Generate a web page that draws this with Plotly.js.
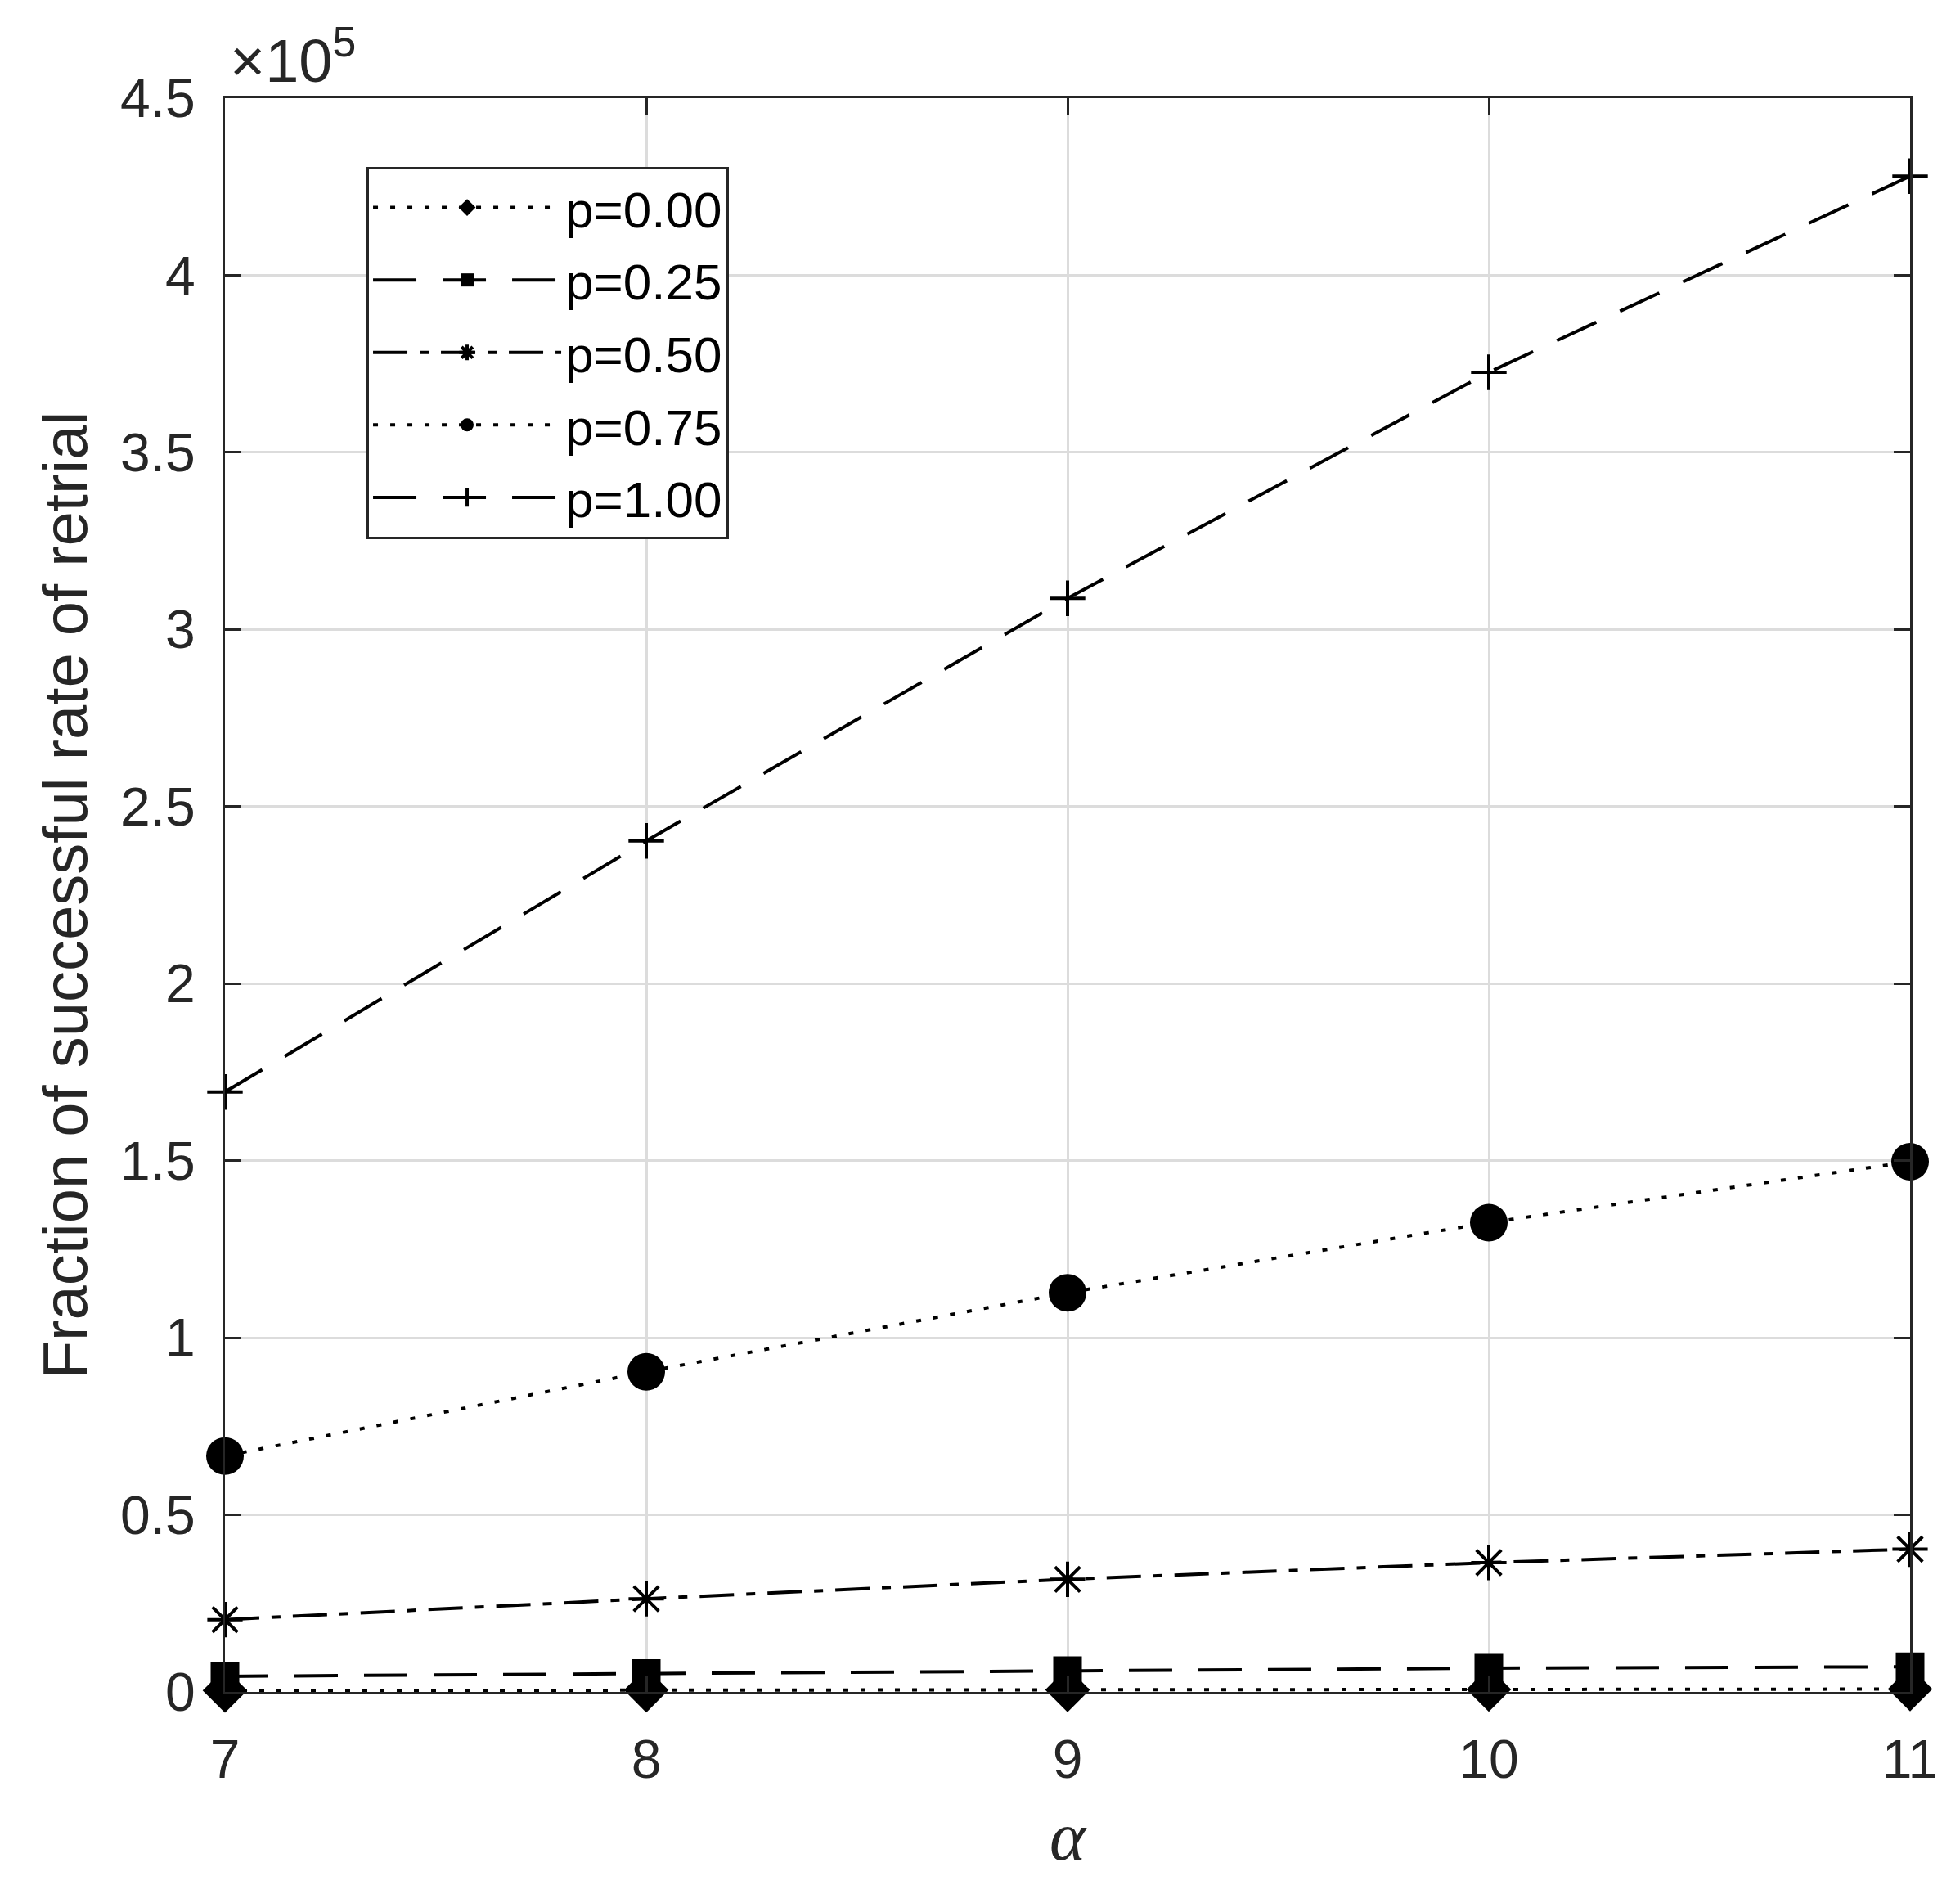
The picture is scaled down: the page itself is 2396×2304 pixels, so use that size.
<!DOCTYPE html>
<html>
<head>
<meta charset="utf-8">
<script src="https://cdn.plot.ly/plotly-3.0.1.min.js"></script>
<style>
  html, body { margin: 0; padding: 0; background: #ffffff; }
  #myDiv { width: 2396px; height: 2304px; }
</style>
</head>
<body>
<div id="myDiv"></div>
<script>
// values (y in absolute units, axis shows them x 10^5)
var alphaVals = [7, 8, 9, 10, 11];
var p000 = [400, 500, 600, 700, 800];
var p025 = [4400, 5200, 6000, 6700, 7100];
var p050 = [20400, 26300, 31800, 36500, 40300];
var p075 = [66600, 90400, 112700, 132500, 149700];
var p100 = [169400, 240300, 308800, 372600, 428000];

var seriesNames = ['p=0.00', 'p=0.25', 'p=0.50', 'p=0.75', 'p=1.00'];
var yTickVals = [0, 50000, 100000, 150000, 200000, 250000, 300000, 350000, 400000, 450000];
var yTickText = ['0', '0.5', '1', '1.5', '2', '2.5', '3', '3.5', '4', '4.5'];
var xTickVals = [7, 8, 9, 10, 11];

var axisColor = '#262626';
var fontFamily = 'Liberation Sans, Arial, Helvetica, sans-serif';

// NOTE: dash patterns (MATLAB-like : -- -.)
var dotted = '6px,15px';
var dashed = '53px,32px';
var dashDot = '42px,15px,11px,15px';

function makeTrace(yVals, name, symbol, size, dash, open) {
  return {
    x: alphaVals,
    y: yVals,
    name: name,
    legendgroup: name,
    type: 'scatter',
    mode: 'lines+markers',
    cliponaxis: false,
    line: { color: '#000000', width: 4, dash: dash },
    marker: {
      symbol: symbol,
      size: size,
      color: '#000000',
      line: { color: '#000000', width: open ? 4 : 0 },
    },
  };
}

var trace = [
  makeTrace(p000, seriesNames[0], 'diamond', 42, dotted, false),
  makeTrace(p025, seriesNames[1], 'square', 35, dashed, false),
  makeTrace(p050, seriesNames[2], 'asterisk-open', 36, dashDot, true),
  makeTrace(p075, seriesNames[3], 'circle', 46, dotted, false),
  makeTrace(p100, seriesNames[4], 'cross-thin-open', 31, dashed, true),
];

var layout = {
  width: 2396,
  height: 2304,
  margin: { l: 275, r: 61, t: 120, b: 236, pad: 0 },
  paper_bgcolor: '#ffffff',
  plot_bgcolor: '#ffffff',
  font: { family: fontFamily, color: axisColor, size: 66 },
  showlegend: true,
  legend: {
    x: 0.084,
    y: 0.957,
    xanchor: 'left',
    yanchor: 'top',
    bgcolor: '#ffffff',
    bordercolor: axisColor,
    borderwidth: 3,
    font: { family: fontFamily, size: 62, color: '#000000' },
    tracegroupgap: 5,
    itemwidth: 230,
  },
  xaxis: {
    range: [7, 11],
    tickvals: xTickVals,
    ticks: 'inside',
    ticklen: 20,
    tickwidth: 3,
    tickcolor: axisColor,
    showline: true,
    mirror: 'ticks',
    linecolor: axisColor,
    linewidth: 3,
    showgrid: true,
    gridcolor: '#dcdcdc',
    gridwidth: 3,
    zeroline: false,
    ticklabelstandoff: 23,
    tickfont: { family: fontFamily, size: 66, color: axisColor },
    title: {
      text: '\u03b1',
      font: { family: 'Liberation Serif, Times New Roman, serif', size: 84, color: axisColor, style: 'italic' },
      standoff: 28,
    },
  },
  yaxis: {
    range: [0, 450000],
    tickvals: yTickVals,
    ticktext: yTickText,
    ticks: 'inside',
    ticklen: 20,
    tickwidth: 3,
    tickcolor: axisColor,
    showline: true,
    mirror: 'ticks',
    linecolor: axisColor,
    linewidth: 3,
    showgrid: true,
    gridcolor: '#dcdcdc',
    gridwidth: 3,
    zeroline: false,
    ticklabelstandoff: 20,
    tickfont: { family: fontFamily, size: 66, color: axisColor },
    title: {
      text: 'Fraction of successful rate of retrial',
      font: { family: fontFamily, size: 76, color: axisColor },
      standoff: 16,
    },
  },
  annotations: [
    {
      // the x10^5 exponent note at the top of the y axis
      xref: 'paper',
      yref: 'paper',
      x: 0,
      y: 1,
      xanchor: 'left',
      yanchor: 'bottom',
      xshift: 4,
      yshift: 2,
      showarrow: false,
      text: '\u00d710<sup>5</sup>',
      font: { family: fontFamily, size: 74, color: axisColor },
    },
  ],
};

var config = { displayModeBar: false, staticPlot: true };

Plotly.newPlot('myDiv', trace, layout, config);
</script>
</body>
</html>
